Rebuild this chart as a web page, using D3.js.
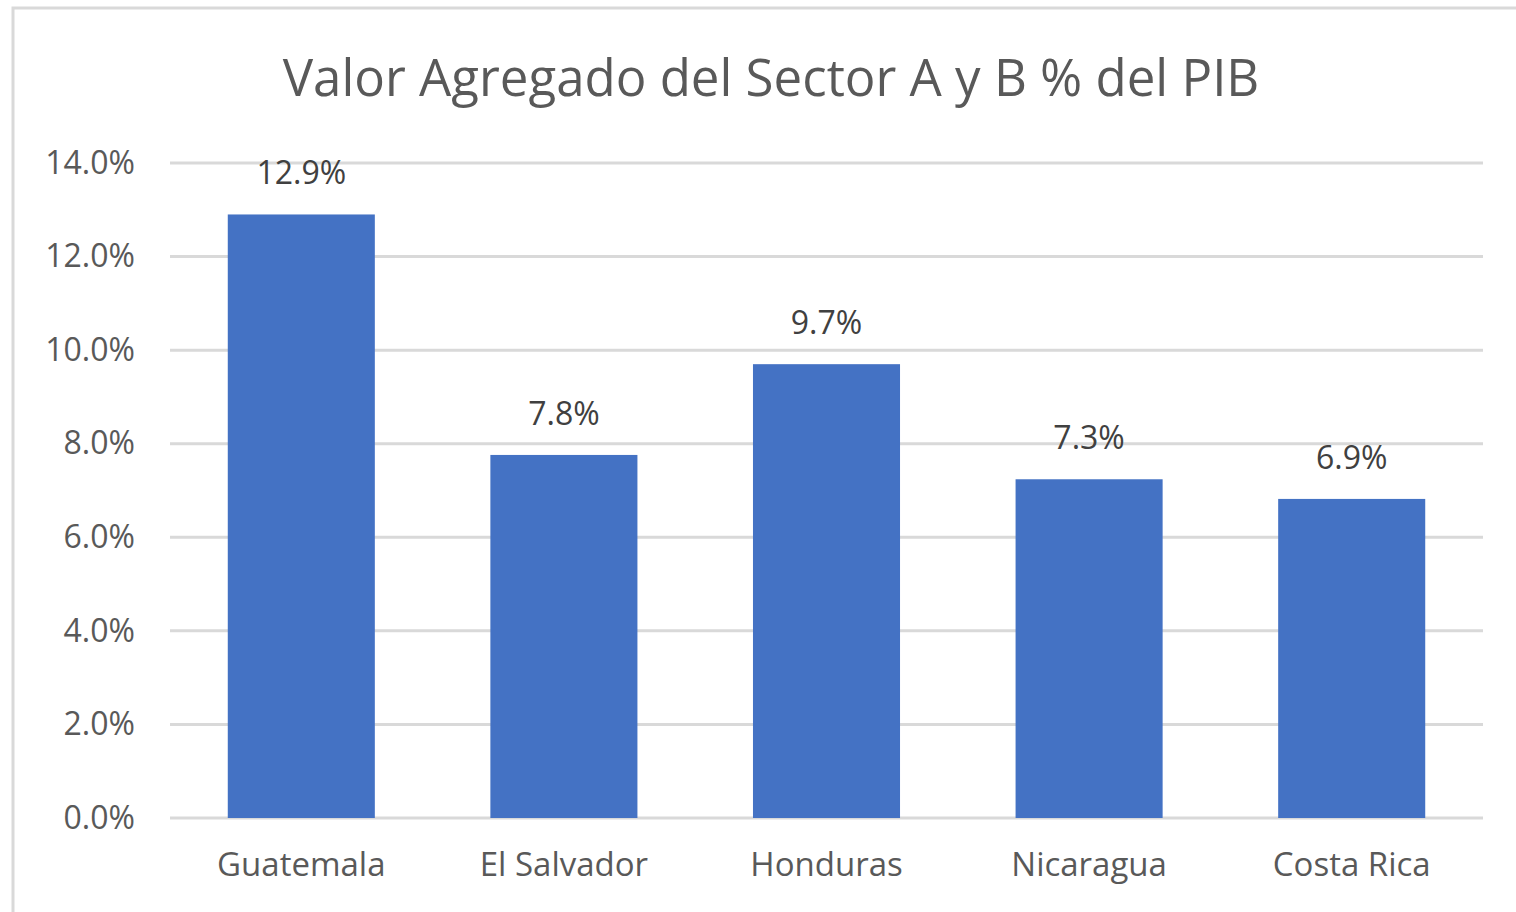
<!DOCTYPE html>
<html>
<head>
<meta charset="utf-8">
<script src="https://cdn.jsdelivr.net/npm/d3@7"></script>
<style>
  body { margin: 0; background: #fff; }
  svg { display: block; font-family: "Open Sans", sans-serif; }
</style>
</head>
<body>
<div id="chart"></div>
<script>
const categories = ["Guatemala", "El Salvador", "Honduras", "Nicaragua", "Costa Rica"];
const values = [12.9, 7.76, 9.7, 7.24, 6.82];
const valueLabels = ["12.9%", "7.8%", "9.7%", "7.3%", "6.9%"];
const yTicks = [0, 2, 4, 6, 8, 10, 12, 14];
const title = "Valor Agregado del Sector A y B % del PIB";

const W = 1516, H = 912;
const margin = {top: 163, right: 33, bottom: 94, left: 170};
const width = W - margin.left - margin.right;
const height = H - margin.top - margin.bottom;

const svg = d3.select("#chart").append("svg")
    .attr("width", W)
    .attr("height", H);

// chart frame
svg.append("rect")
    .attr("x", 13).attr("y", 8)
    .attr("width", W + 10).attr("height", H + 10)
    .attr("fill", "#fff")
    .attr("stroke", "#d9d9d9")
    .attr("stroke-width", 3);

svg.append("text")
    .attr("x", 771).attr("y", 96)
    .attr("text-anchor", "middle")
    .attr("font-size", 51)
    .attr("fill", "#595959")
    .text(title);

const g = svg.append("g")
    .attr("transform", "translate(" + margin.left + "," + margin.top + ")");

const xScale = d3.scaleBand().domain(categories).range([0, width]).paddingInner(0.44).paddingOuter(0.22);
const yScale = d3.scaleLinear().domain([0, 14]).range([height, 0]);

// gridlines
g.append("g").attr("class", "grid")
    .selectAll("line")
    .data(yTicks)
    .join("line")
    .attr("x1", 0).attr("x2", width)
    .attr("y1", d => yScale(d)).attr("y2", d => yScale(d))
    .attr("stroke", "#d9d9d9")
    .attr("stroke-width", 3);

// y axis labels
const yAxis = g.append("g")
    .call(d3.axisLeft(yScale).tickValues(yTicks).tickFormat(d => d.toFixed(1) + "%").tickSize(0).tickPadding(35));
yAxis.select(".domain").remove();
yAxis.selectAll("text")
    .attr("font-size", 32)
    .attr("font-family", "'Open Sans', sans-serif")
    .attr("fill", "#595959");

// bars
g.selectAll(".bar")
    .data(values)
    .join("rect")
    .attr("class", "bar")
    .attr("x", (d, i) => xScale(categories[i]))
    .attr("y", d => yScale(d))
    .attr("width", xScale.bandwidth())
    .attr("height", d => height - yScale(d))
    .attr("fill", "#4472c4");

// value labels
g.selectAll(".valLabel")
    .data(values)
    .join("text")
    .attr("class", "valLabel")
    .attr("x", (d, i) => xScale(categories[i]) + xScale.bandwidth() / 2)
    .attr("y", d => yScale(d) - 30)
    .attr("text-anchor", "middle")
    .attr("font-size", 32)
    .attr("fill", "#404040")
    .text((d, i) => valueLabels[i]);

// x axis labels
const xAxis = g.append("g")
    .attr("transform", "translate(0," + height + ")")
    .call(d3.axisBottom(xScale).tickSize(0).tickPadding(35));
xAxis.select(".domain").remove();
xAxis.selectAll("text")
    .attr("font-size", 33)
    .attr("font-family", "'Open Sans', sans-serif")
    .attr("fill", "#595959");
</script>
</body>
</html>
